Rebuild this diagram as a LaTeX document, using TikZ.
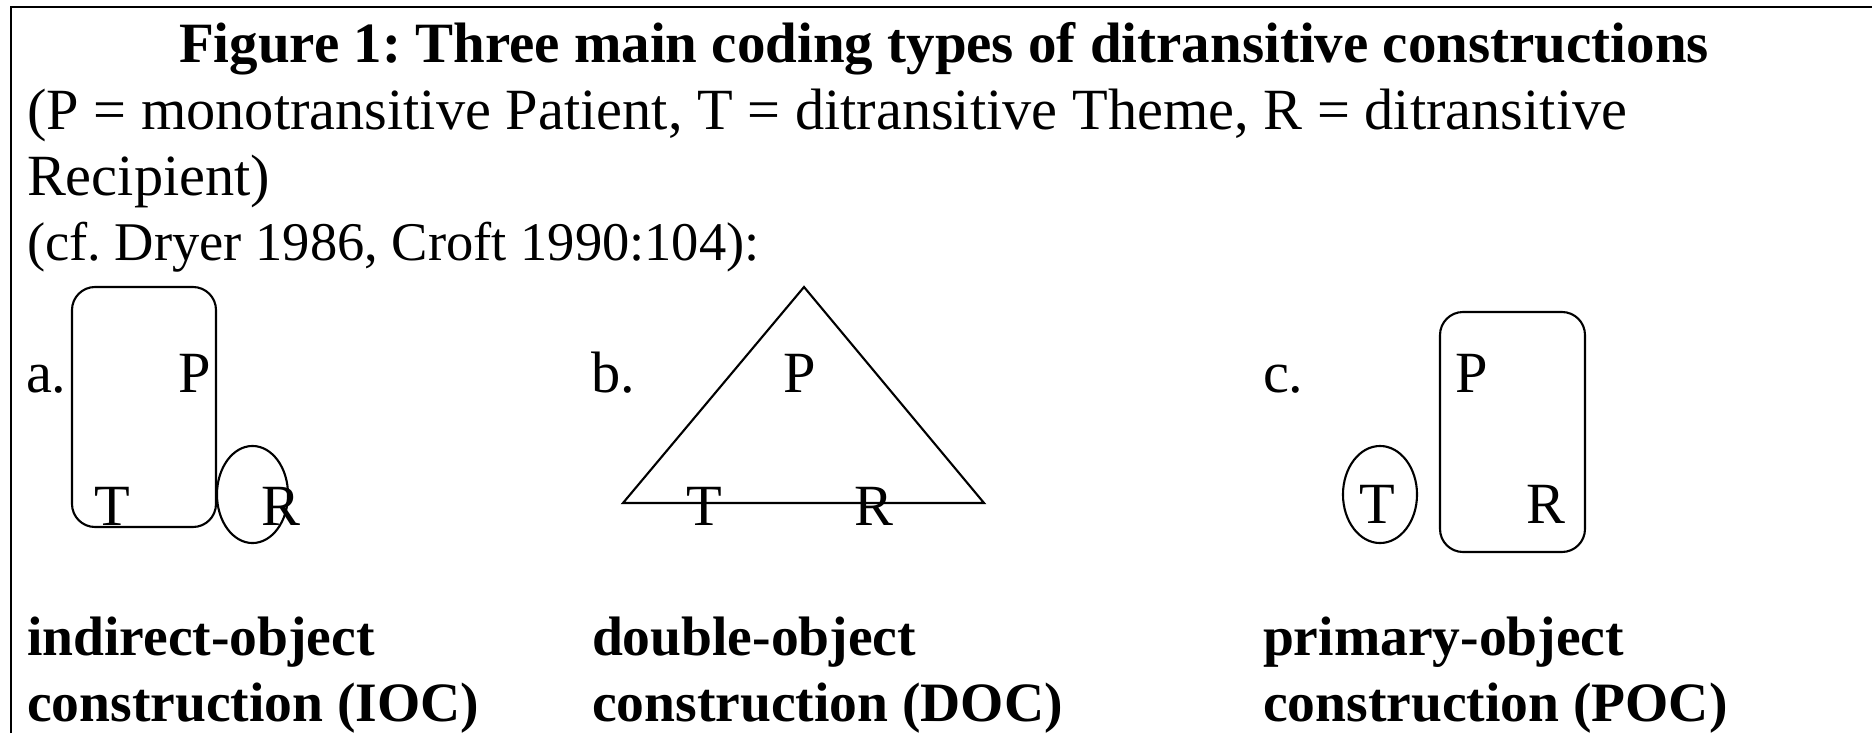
\documentclass[tikz,border=0pt]{standalone}
\usepackage{fontspec}
\setmainfont{Liberation Serif}
\usetikzlibrary{positioning}
\frenchspacing

\begin{document}
\begin{tikzpicture}[x=0.01cm,y=-0.01cm,line width=0.6pt,
  font=\fontsize{16.6}{19}\selectfont,
  txt/.style={anchor=base west,inner sep=0pt},
  ctype/.style={anchor=base west,inner sep=0pt,font=\fontsize{15.8}{19}\selectfont\bfseries},
  group/.style={draw,rounded corners=0.23cm},
  single/.style={draw}]
\useasboundingbox (0,0) rectangle (1872,733);
\draw (11,733) -- (11,7) -- (1872,7);
\node[anchor=base,inner sep=0pt,font=\fontsize{16.2}{19}\selectfont\bfseries] (title) at (944,62)
  {Figure 1: Three main coding types of ditransitive constructions};
\node[txt] (key) at (26,129) {(P = monotransitive Patient, T = ditransitive Theme, R = ditransitive};
\node[txt] (keyend) at (26,195) {Recipient)};
\node[txt,font=\fontsize{15.5}{19}\selectfont] (cf) at (26,260) {(cf. Dryer 1986, Croft 1990:104):};
% a. indirect object
\node[txt] (a) at (25,392) {a.};
\draw[group] (72,287) rectangle (216,527);
\draw[single] (252.5,494.5) ellipse [x radius=0.355cm, y radius=0.485cm];
\node[txt] (aP) at (177,392) {P};
\node[txt] (aT) at (93,525) {T};
\node[txt] (aR) at (260,525) {R};
% b. double object
\node[txt] (b) at (590,392) {b.};
\draw[single] (623,503) -- (804,287) -- (984,503) -- cycle;
\node[txt] (bP) at (782,392) {P};
\node[txt] (bT) at (685,525) {T};
\node[txt] (bR) at (853,525) {R};
% c. primary object
\node[txt] (c) at (1262,392) {c.};
\draw[single] (1380,494.5) ellipse [x radius=0.37cm, y radius=0.485cm];
\draw[group] (1440,312) rectangle (1585,552);
\node[txt] (cT) at (1358,523) {T};
\node[txt] (cP) at (1454,392) {P};
\node[txt] (cR) at (1525,523) {R};
\node[ctype] (ioc) at (26,655) {indirect-object};
\node[ctype] (iocend) at (26,721) {construction (IOC)};
\node[ctype] (doc) at (591,655) {double-object};
\node[ctype] (docend) at (591,721) {construction (DOC)};
\node[ctype] (poc) at (1262,655) {primary-object};
\node[ctype] (pocend) at (1262,721) {construction (POC)};
\end{tikzpicture}
\end{document}
